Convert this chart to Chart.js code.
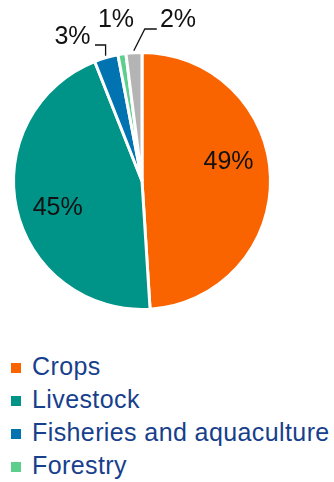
<!DOCTYPE html>
<html>
<head>
<meta charset="utf-8">
<script src="https://cdn.jsdelivr.net/npm/chart.js@4/dist/chart.umd.min.js"></script>
<style>
  html, body { margin: 0; padding: 0; background: #ffffff; }
  body { width: 334px; height: 482px; overflow: hidden; position: relative; font-family: "Liberation Sans", Arial, sans-serif; }
  #wrap { position: absolute; left: 0; top: 0; width: 334px; height: 335px; }
  #legend { position: absolute; left: 11px; top: 350px; margin: 0; padding: 0; list-style: none; }
  #legend li { height: 33px; line-height: 33px; font-size: 25px; color: #173f8c; white-space: nowrap; letter-spacing: 0.4px; }
  #legend span.box { display: inline-block; width: 10px; height: 10px; margin-right: 11px; vertical-align: 2px; }
</style>
</head>
<body>
<div id="wrap"><canvas id="chart"></canvas></div>
<ul id="legend"></ul>
<script>
// Share of the total by sub-sector (%)
const categories = ["Crops", "Livestock", "Fisheries and aquaculture", "Forestry", "Other"];
const shares = [49, 45, 3, 1, 2];
const sliceColors = ["#fa6400", "#009488", "#0073b0", "#5ccf8d", "#b4b4b4"];
const legendCategories = ["Crops", "Livestock", "Fisheries and aquaculture", "Forestry"];

// Label placement per slice: inside labels use a polar position (degrees clockwise from top,
// fraction of radius); outside labels use an offset from the pie centre, with an optional
// leader line drawn from the slice's outer edge.
const labelPlacement = [
  { inside: true, angle: 77.5, frac: 0.69 },
  { inside: true, angle: 252, frac: 0.69 },
  { inside: false, dx: -69.5, dy: -143.5, leader: 'elbowUp', elbowY: -136, endX: -47 },
  { inside: false, dx: -26, dy: -160.5, leader: null },
  { inside: false, dx: 36, dy: -160.5, leader: 'slant', elbowDx: 11, elbowY: -152, endDx: 23 }
];

const labelPlugin = {
  id: 'sliceLabels',
  afterDatasetsDraw(chart) {
    const ctx = chart.ctx;
    const meta = chart.getDatasetMeta(0);
    ctx.save();
    ctx.font = '25px "Liberation Sans", Arial, sans-serif';
    ctx.fillStyle = '#111111';
    ctx.textAlign = 'center';
    ctx.textBaseline = 'middle';
    meta.data.forEach((arc, i) => {
      const p = labelPlacement[i];
      const { x, y, startAngle, endAngle, outerRadius } = arc.getProps(['x', 'y', 'startAngle', 'endAngle', 'outerRadius'], true);
      const text = shares[i] + '%';
      if (p.inside) {
        const a = p.angle * Math.PI / 180;
        const r = outerRadius * p.frac;
        ctx.fillText(text, x + r * Math.sin(a), y - r * Math.cos(a));
        return;
      }
      if (p.leader) {
        const mid = (startAngle + endAngle) / 2;
        const r0 = outerRadius + 2;
        const sx = x + r0 * Math.cos(mid);
        const sy = y + r0 * Math.sin(mid);
        ctx.beginPath();
        ctx.strokeStyle = '#111111';
        ctx.lineWidth = 1.3;
        ctx.moveTo(sx, sy);
        if (p.leader === 'elbowUp') {
          ctx.lineTo(sx, y + p.elbowY);
          ctx.lineTo(x + p.endX, y + p.elbowY);
        } else {
          ctx.lineTo(sx + p.elbowDx, y + p.elbowY);
          ctx.lineTo(sx + p.endDx, y + p.elbowY);
        }
        ctx.stroke();
      }
      ctx.fillText(text, x + p.dx, y + p.dy);
    });
    ctx.restore();
  }
};

new Chart(document.getElementById('chart'), {
  type: 'pie',
  data: {
    labels: categories,
    datasets: [{
      data: shares,
      backgroundColor: sliceColors,
      borderColor: '#ffffff',
      borderWidth: 3
    }]
  },
  options: {
    responsive: true,
    maintainAspectRatio: false,
    animation: false,
    layout: { padding: { left: 12, right: 62, top: 51, bottom: 24 } },
    plugins: {
      legend: { display: false },
      tooltip: { enabled: false }
    }
  },
  plugins: [labelPlugin]
});

// Legend below the pie
const legendEl = document.getElementById('legend');
legendCategories.forEach(name => {
  const idx = categories.indexOf(name);
  const li = document.createElement('li');
  const box = document.createElement('span');
  box.className = 'box';
  box.style.background = sliceColors[idx];
  li.appendChild(box);
  li.appendChild(document.createTextNode(name));
  legendEl.appendChild(li);
});
</script>
</body>
</html>
